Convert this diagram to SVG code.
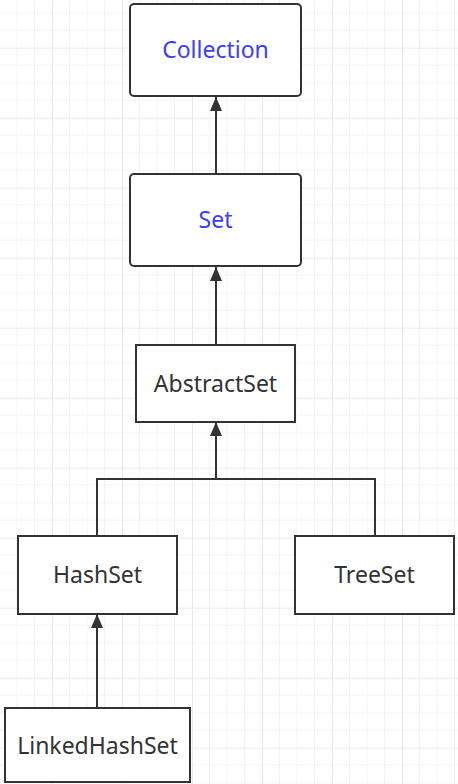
<svg xmlns="http://www.w3.org/2000/svg" width="458" height="784" viewBox="0 0 458 784">
<defs>
<pattern id="grid" patternUnits="userSpaceOnUse" x="-18" y="-22.3" width="70" height="70">
<path d="M17.5,0V70M35,0V70M52.5,0V70M0,17.5H70M0,35H70M0,52.5H70" stroke="#f3f3f3" stroke-width="1" fill="none"/>
<path d="M0.5,0V70M0,0.5H70" stroke="#e9e9e9" stroke-width="1.2" fill="none"/>
</pattern>
<marker id="arr" viewBox="0 0 14 12" refX="14" refY="6" markerWidth="14" markerHeight="12" markerUnits="userSpaceOnUse" orient="auto">
<path d="M0,0L14,6L0,12Z" fill="#333"/>
</marker>
<style>
.box{fill:#fff;stroke:#333;stroke-width:2}
.t{font-family:"Noto Sans","Liberation Sans",sans-serif;font-size:23px;text-anchor:middle;fill:#333}
.b{fill:#3c3cff}
.c{fill:none;stroke:#333;stroke-width:2}
</style>
</defs>
<rect width="458" height="784" fill="#fff"/>
<rect width="458" height="784" fill="url(#grid)"/>
<g id="connectors">
<path class="c" d="M216,174V97" marker-end="url(#arr)"/>
<path class="c" d="M216,345V267" marker-end="url(#arr)"/>
<path class="c" d="M97,536V479H375V536"/>
<path class="c" d="M216,479V422" marker-end="url(#arr)"/>
<path class="c" d="M97,708V614" marker-end="url(#arr)"/>
</g>
<g id="collection">
<rect class="box" x="130" y="4" width="171" height="92" rx="4"/>
<text class="t b" x="215.5" y="58">Collection</text>
</g>
<g id="set">
<rect class="box" x="130" y="174" width="171" height="92" rx="4"/>
<text class="t b" x="215.5" y="228">Set</text>
</g>
<g id="abstractset">
<rect class="box" x="136" y="345" width="159" height="77"/>
<text class="t" x="215.5" y="392">AbstractSet</text>
</g>
<g id="hashset">
<rect class="box" x="18" y="536" width="159" height="78"/>
<text class="t" x="97.5" y="583">HashSet</text>
</g>
<g id="treeset">
<rect class="box" x="295" y="536" width="159" height="78"/>
<text class="t" x="374.5" y="583">TreeSet</text>
</g>
<g id="linkedhashset">
<rect class="box" x="5" y="708" width="185" height="74"/>
<text class="t" x="97.5" y="754">LinkedHashSet</text>
</g>
</svg>
